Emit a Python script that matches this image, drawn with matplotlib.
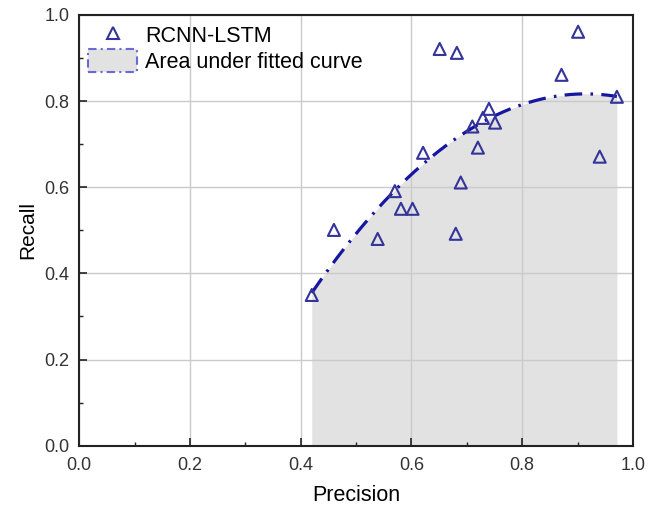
import numpy as np
import matplotlib
matplotlib.use("Agg")
import matplotlib.pyplot as plt
from matplotlib.lines import Line2D
from matplotlib.patches import Patch

plt.rcParams['font.family'] = ['Liberation Sans', 'DejaVu Sans']

# precision / recall pairs of the RCNN-LSTM runs
precision = [0.420, 0.460, 0.539, 0.570, 0.581, 0.602, 0.621, 0.651, 0.682, 0.689,
             0.680, 0.710, 0.720, 0.729, 0.740, 0.751, 0.871, 0.901, 0.940, 0.971]
recall = [0.350, 0.501, 0.480, 0.591, 0.550, 0.550, 0.680, 0.921, 0.912, 0.611,
          0.492, 0.741, 0.692, 0.761, 0.782, 0.750, 0.861, 0.961, 0.671, 0.810]

series_label = "RCNN-LSTM"
area_label = "Area under fitted curve"

marker_col = "#34349a"
curve_col = "#1616a0"
fill_col = "#e2e2e2"

fig = plt.figure(figsize=(6.6, 5.08), dpi=100)
ax = fig.add_axes([0.120, 0.1226, 0.839, 0.848])

# second order fit of recall over precision
coef = np.polyfit(precision, recall, 2)
xs = np.linspace(min(precision), max(precision), 200)
ys = np.polyval(coef, xs)

ax.fill_between(xs, 0, ys, color=fill_col, lw=0, zorder=0.2)
ax.plot(xs, ys, color=curve_col, lw=2.3, ls=(0, (5.5, 2.6, 0.8, 2.6)), zorder=2)
ax.scatter(precision, recall, marker='^', s=75, facecolors='none',
           edgecolors=marker_col, linewidths=1.5, zorder=3)

ax.set_xlim(0, 1)
ax.set_ylim(0, 1)
ax.set_xticks(np.arange(0, 1.01, 0.2))
ax.set_yticks(np.arange(0, 1.01, 0.2))
ax.set_xticks(np.arange(0.1, 1.0, 0.2), minor=True)
ax.set_yticks(np.arange(0.1, 1.0, 0.2), minor=True)
ax.xaxis.set_major_formatter(matplotlib.ticker.FormatStrFormatter('%.1f'))
ax.yaxis.set_major_formatter(matplotlib.ticker.FormatStrFormatter('%.1f'))
ax.tick_params(which='major', direction='in', length=6, width=1.2, labelsize=13,
               colors='#222222', labelcolor='#333333')
ax.tick_params(axis='x', which='major', pad=8)
ax.tick_params(axis='y', which='major', pad=7)
ax.tick_params(which='minor', direction='in', length=3, width=1.0, colors='#222222')

ax.set_axisbelow(True)
ax.grid(True, which='major', color='#cacaca', lw=1.0)
for sp in ax.spines.values():
    sp.set_linewidth(1.5)
    sp.set_color('#222222')

ax.set_xlabel("Precision", fontsize=15.5, labelpad=8)
ax.set_ylabel("Recall", fontsize=15, labelpad=5)

handles = [
    Line2D([], [], marker='^', ls='none', markersize=8.5, markerfacecolor='none',
           markeredgecolor=marker_col, markeredgewidth=1.5),
    Patch(facecolor=fill_col, edgecolor='#6a6ad0', ls=(0, (4, 2, 1, 2)), lw=1.5),
]
ax.legend(handles, [series_label, area_label], loc='upper left', frameon=False,
          fontsize=15.5, handlelength=2.3, handleheight=1.3, handletextpad=0.35,
          borderaxespad=0.0, labelspacing=0.05, bbox_to_anchor=(0.0, 1.0))

fig.savefig("out.png", dpi=100)
